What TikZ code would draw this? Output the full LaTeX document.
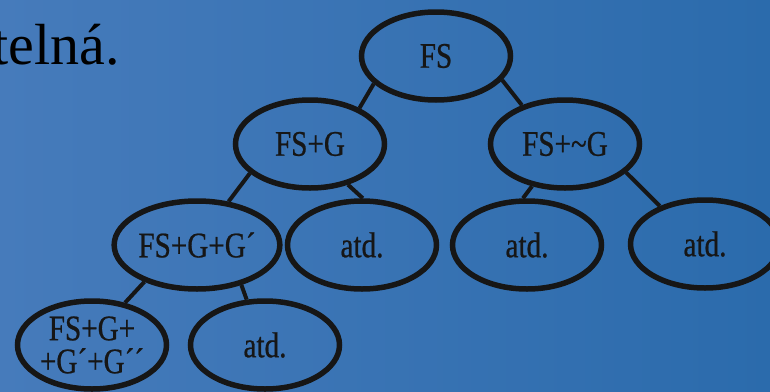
\documentclass[tikz,border=0pt]{standalone}
\usepackage{fontspec}
\setmainfont{Liberation Serif}
\newfontfamily\treefont[FakeStretch=0.81,FakeBold=0.6]{Liberation Serif}
\usepackage{xcolor}
\usetikzlibrary{positioning,shapes.geometric}

\definecolor{slideleft}{RGB}{70,123,187}
\definecolor{slideright}{RGB}{43,107,172}
\definecolor{ink}{RGB}{22,22,22}

\begin{document}
\begin{tikzpicture}
		[state/.style={ellipse,draw=ink,line width=5.5pt,inner sep=0pt,minimum width=149pt,minimum height=88pt,text=ink,font=\treefont\fontsize{36}{33}\selectfont,align=center},
		link/.style={draw=ink,line width=4pt},
		node distance=100pt and 100pt, on grid]
		\useasboundingbox (0,0) rectangle (770pt,-391pt);
		\fill [left color=slideleft,right color=slideright] (0,0) rectangle (770pt,-391pt);

		\node [anchor=base east,inner sep=0pt,text=black,font=\fontsize{58}{60}\selectfont] (title) at (120pt,-64pt) {telná.};

		\node [state] (fs) at (436pt,-56pt) {FS};
		\node [state] (fsg) [below left=88pt and 126pt of fs] {FS+G};
		\node [state] (fsng) [below right=88pt and 129pt of fs] {FS+\textasciitilde G};

		\node [state] (fsgg) [below left=101pt and 113pt of fsg] {FS+G+G´};
		\node [state] (atda) [below right=101pt and 52pt of fsg] {atd.};
		\node [state] (atdb) [below left=101pt and 38pt of fsng] {atd.};
		\node [state] (atdc) [below right=100pt and 140pt of fsng] {atd.};

		\node [state] (fsggg) [below left=100pt and 105pt of fsgg] {FS+G+\\+G´+G´´};
		\node [state] (atdd) [below right=100pt and 68pt of fsgg] {atd.};

		\draw [link] (fs.204) -- (fsg.36);
		\draw [link] (fs.340) -- (fsng.138);
		\draw [link] (fsg.206) -- (fsgg.54);
		\draw [link] (fsg.313) -- (atda.89);
		\draw [link] (fsng.232) -- (atdb.95);
		\draw [link] (fsng.335) -- (atdc.140);
		\draw [link] (fsgg.215) -- (fsggg.52);
		\draw [link] (fsgg.318) -- (atdd.112);

	\end{tikzpicture}
\end{document}
